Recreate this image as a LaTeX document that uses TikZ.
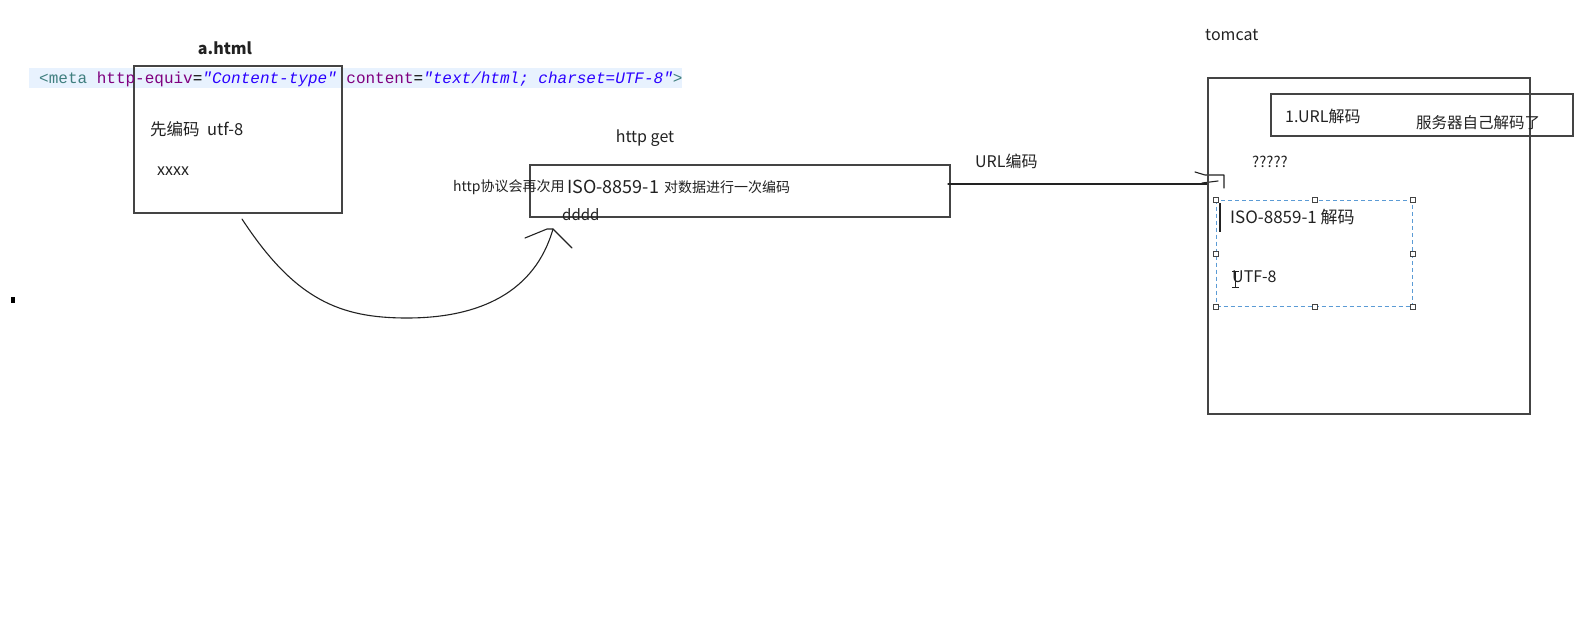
\documentclass[tikz,border=0pt]{standalone}
\usepackage{fontspec}
\setmainfont{Noto Sans CJK SC}
\newfontfamily\codefont{Liberation Mono}
\definecolor{boxgray}{HTML}{444444}
\definecolor{textgray}{HTML}{222222}
\definecolor{bandblue}{HTML}{E8F2FE}
\definecolor{tagteal}{HTML}{3F7F7F}
\definecolor{attrpurple}{HTML}{7F007F}
\definecolor{valblue}{HTML}{2A00FF}
\definecolor{selblue}{HTML}{5B9BD5}
\newcommand{\fs}[1]{\fontsize{#1}{#1}\selectfont}
\begin{document}
\begin{tikzpicture}[x=1pt,y=-1pt,
  box/.style={draw=boxgray, line width=1.6pt, inner sep=0pt, anchor=north west},
  txt/.style={inner sep=0pt, anchor=west, text=textgray},
  pen/.style={draw=textgray, line width=1.1pt, line cap=round, line join=round},
  handle/.style={draw=boxgray, fill=white, line width=0.6pt, minimum size=5pt, inner sep=0pt},
  sel/.style={draw=selblue, dashed, dash pattern=on 4pt off 3pt, line width=1pt, inner sep=0pt, anchor=north west}]
\useasboundingbox (0,0) rectangle (1577,629);
\fill[white] (0,0) rectangle (1577,629);

% a.html
\node[txt, anchor=center, font=\fs{16}\bfseries] (ahtml) at (225,48) {a.html};
\node[fill=bandblue, inner sep=0pt, minimum width=653pt, minimum height=20pt, anchor=north west] (band) at (29,68) {};
\node[box, minimum width=208pt, minimum height=147pt] (box1) at (133,65) {};
\node[inner sep=0pt, anchor=west] (meta) at (39,79) {\codefont\fs{16}\textcolor{tagteal}{<meta} \textcolor{attrpurple}{http-equiv}=\textcolor{valblue}{\itshape"Content-type"} \textcolor{attrpurple}{content}=\textcolor{valblue}{\itshape"text/html; charset=UTF-8"}\textcolor{tagteal}{>}};
\node[txt, font=\fs{16.5}] (enc) at (150,129) {先编码\ \ utf-8};
\node[txt, font=\fs{16}] (xxxx) at (157,171) {xxxx};

% http get
\node[txt, anchor=center, font=\fs{16}] (httpget) at (645,138) {http get};
\node[box, minimum width=420pt, minimum height=52pt] (box2) at (529,164) {};
\node[txt, font=\fs{14}] (proto) at (453,187) {http协议会再次用};
\node[txt, font=\fs{18}] (iso) at (567,187) {ISO-8859-1};
\node[txt, font=\fs{14}] (once) at (664,187) {对数据进行一次编码};
\node[txt, font=\fs{15}] (dddd) at (562,215) {dddd};

% curved arrow
\coordinate (cs) at (242,219);
\coordinate (ct) at (553,229);
\draw[pen] (cs) .. controls (295,300) and (340,318) .. (407,318) .. controls (480,318) and (535,292) .. (ct);
\draw[pen] (525,238) -- (547,229) -- (ct) -- (572,248);

% URL line
\node[txt, font=\fs{16}] (urlenc) at (975,161) {URL编码};
\coordinate (ls) at (948,184);
\coordinate (le) at (1207,184);
\draw[pen] (ls) -- (le);
\draw[pen] (1195,172) -- (1205,175) -- (1224,175) -- (1224,188);
\draw[pen] (1202,183) -- (1218,181);

% tomcat
\node[txt, font=\fs{16}] (tomcat) at (1205,35) {tomcat};
\node[box, minimum width=322pt, minimum height=336pt] (tc) at (1207,77) {};
\node[box, minimum width=302pt, minimum height=42pt] (urlbox) at (1270,93) {};
\node[txt, font=\fs{16}] (urldec) at (1285,116) {1.URL解码};
\node[txt, font=\fs{15.5}] (self) at (1416,123) {服务器自己解码了};
\node[txt, font=\fs{15}] (q) at (1252,162) {?????};

% selection box
\node[sel, minimum width=196pt, minimum height=106pt] (selbox) at (1216,200) {};
\foreach \a in {north west,north,north east,east,south east,south,south west,west}
  \node[handle] at (selbox.\a) {};
\node[txt, font=\fs{17}] (isodec) at (1230,217) {ISO-8859-1 解码};
\node[txt, font=\fs{16}] (utf) at (1232,277) {UTF-8};
\draw[textgray, line width=1.2pt] (1220,203) -- (1220,232);
% I-beam cursor
\draw[textgray, line width=0.8pt] (1232,271) -- (1239,271) (1235.5,271) -- (1235.5,287) (1232,287) -- (1239,287);

% dot
\fill[black] (11,297) rectangle (15,303);
\end{tikzpicture}
\end{document}
